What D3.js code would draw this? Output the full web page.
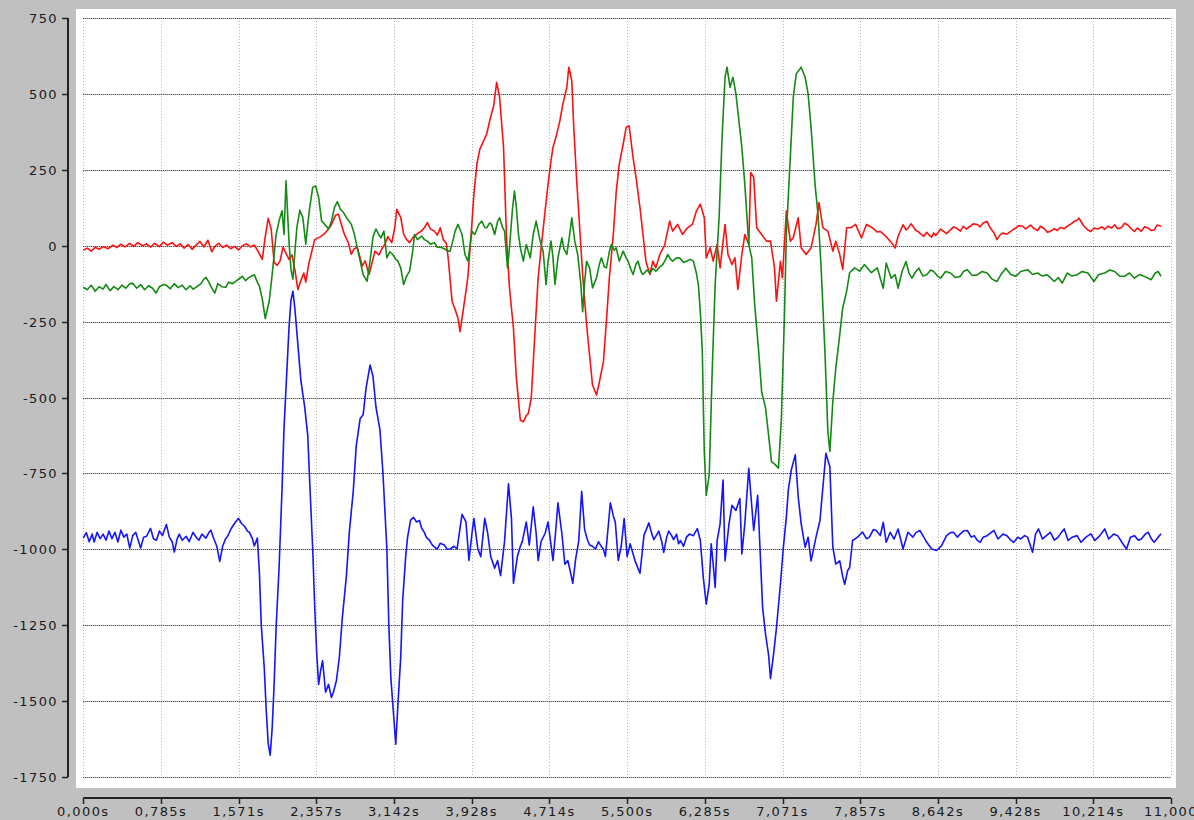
<!DOCTYPE html>
<html>
<head>
<meta charset="utf-8">
<script src="https://cdn.jsdelivr.net/npm/d3@7"></script>
<style>
  html, body { margin: 0; padding: 0; background: #c0c0c0; }
  svg { display: block; }
  .tick-label { font-family: "DejaVu Sans", Verdana, sans-serif; font-size: 13px; letter-spacing: 1.4px; fill: #1a1a1a; }
</style>
</head>
<body>
<svg id="chart" width="1194" height="820"></svg>
<script>
  // y ticks every 250, x ticks every 11/14 s
  const yTicks = [750, 500, 250, 0, -250, -500, -750, -1000, -1250, -1500, -1750];
  const xTicks = [0, 0.7857, 1.5714, 2.3571, 3.1429, 3.9286, 4.7143, 5.5, 6.2857, 7.0714, 7.8571, 8.6429, 9.4286, 10.2143, 11];
  const xTickLabels = ["0,000s", "0,785s", "1,571s", "2,357s", "3,142s", "3,928s", "4,714s", "5,500s",
    "6,285s", "7,071s", "7,857s", "8,642s", "9,428s", "10,214s", "11,000"];

  // [time (s), value]
  const redSeries = [
    [0.00,-15],[0.04,-8],[0.08,-18],[0.12,-5],[0.16,-12],[0.20,-3],[0.25,-10],[0.30,2],[0.34,-6],[0.38,5],
    [0.42,-4],[0.47,8],[0.51,-2],[0.55,10],[0.60,0],[0.64,6],[0.68,-5],[0.72,8],[0.77,-3],[0.81,12],
    [0.85,2],[0.90,10],[0.94,-2],[0.98,6],[1.02,-8],[1.06,4],[1.10,-12],[1.14,2],[1.18,14],[1.22,-4],
    [1.26,18],[1.30,-20],[1.33,-2],[1.37,8],[1.41,-6],[1.45,2],[1.49,-10],[1.53,-2],[1.57,-14],[1.61,0],
    [1.65,6],[1.69,-4],[1.73,2],[1.77,-20],[1.81,-45],[1.84,30],[1.87,90],[1.90,55],[1.93,-55],[1.96,-65],
    [1.99,-50],[2.02,-5],[2.05,-25],[2.08,-45],[2.11,-30],[2.14,-80],[2.17,-145],[2.20,-115],[2.23,-90],[2.25,-120],
    [2.28,-60],[2.31,-20],[2.34,20],[2.37,25],[2.40,30],[2.44,40],[2.48,55],[2.51,70],[2.55,100],[2.58,104],
    [2.61,70],[2.64,38],[2.68,10],[2.71,-28],[2.74,-10],[2.77,-5],[2.80,-40],[2.82,-67],[2.85,-50],[2.89,-95],
    [2.92,-56],[2.95,-18],[2.99,-30],[3.02,-10],[3.05,5],[3.08,30],[3.12,10],[3.15,60],[3.17,120],[3.21,93],
    [3.24,38],[3.27,20],[3.30,10],[3.34,30],[3.38,40],[3.42,48],[3.45,60],[3.48,76],[3.51,55],[3.55,48],
    [3.58,35],[3.61,59],[3.64,20],[3.67,9],[3.69,-40],[3.73,-184],[3.76,-210],[3.79,-240],[3.81,-283],[3.84,-217],
    [3.87,-150],[3.89,-100],[3.92,26],[3.95,169],[3.98,268],[4.01,318],[4.05,346],[4.08,368],[4.11,412],[4.15,461],
    [4.18,538],[4.21,489],[4.25,324],[4.28,26],[4.31,-139],[4.35,-272],[4.38,-437],[4.42,-575],[4.45,-580],[4.48,-560],
    [4.50,-553],[4.53,-503],[4.57,-272],[4.60,-106],[4.63,-8],[4.67,114],[4.70,202],[4.73,280],[4.75,324],[4.78,357],
    [4.82,412],[4.85,467],[4.89,522],[4.91,588],[4.94,544],[4.96,390],[4.99,213],[5.02,59],[5.05,-95],[5.09,-261],
    [5.12,-360],[5.15,-459],[5.19,-492],[5.22,-448],[5.26,-382],[5.29,-250],[5.32,-106],[5.36,37],[5.39,180],[5.42,268],
    [5.46,335],[5.49,390],[5.52,395],[5.56,290],[5.59,224],[5.63,125],[5.66,37],[5.69,-51],[5.73,-95],[5.76,-51],
    [5.79,-73],[5.83,-29],[5.88,3],[5.93,81],[5.96,48],[6.01,70],[6.06,37],[6.11,59],[6.16,70],[6.20,114],
    [6.24,137],[6.28,92],[6.30,-40],[6.34,-7],[6.37,-51],[6.41,4],[6.44,-73],[6.49,70],[6.52,-29],[6.56,-62],
    [6.59,-40],[6.62,-144],[6.66,-29],[6.69,37],[6.73,4],[6.75,241],[6.78,225],[6.81,59],[6.86,37],[6.91,15],
    [6.95,15],[6.99,-73],[7.01,-183],[7.05,-51],[7.07,-106],[7.11,114],[7.15,15],[7.18,26],[7.23,92],[7.26,-7],
    [7.31,-29],[7.36,-7],[7.41,70],[7.44,142],[7.48,59],[7.53,48],[7.58,-18],[7.61,15],[7.65,-29],[7.68,-78],
    [7.72,59],[7.76,59],[7.81,70],[7.87,26],[7.92,70],[7.98,59],[8.03,45],[8.06,47],[8.10,36],[8.16,15],
    [8.19,3],[8.21,-8],[8.24,31],[8.29,69],[8.32,52],[8.34,58],[8.37,72],[8.39,64],[8.42,50],[8.44,47],
    [8.47,38],[8.50,31],[8.53,44],[8.55,36],[8.58,28],[8.60,42],[8.62,34],[8.64,42],[8.67,55],[8.70,47],
    [8.73,40],[8.77,52],[8.80,62],[8.83,58],[8.87,48],[8.90,64],[8.93,55],[8.97,64],[9.00,72],[9.04,70],
    [9.07,62],[9.10,75],[9.14,80],[9.16,66],[9.18,55],[9.21,42],[9.24,20],[9.27,35],[9.30,42],[9.34,38],
    [9.38,47],[9.41,55],[9.43,58],[9.46,66],[9.50,64],[9.53,55],[9.55,60],[9.58,68],[9.61,58],[9.65,50],
    [9.68,64],[9.72,56],[9.75,44],[9.78,47],[9.82,56],[9.85,50],[9.88,60],[9.92,56],[9.95,64],[9.99,72],
    [10.02,80],[10.05,84],[10.07,91],[10.10,74],[10.12,64],[10.16,52],[10.19,47],[10.22,58],[10.26,55],[10.30,62],
    [10.33,54],[10.36,64],[10.40,58],[10.43,69],[10.46,56],[10.50,60],[10.53,74],[10.56,69],[10.60,55],[10.63,47],
    [10.66,58],[10.70,47],[10.73,62],[10.77,58],[10.80,50],[10.83,52],[10.86,68],[10.90,64]
  ];

  const greenSeries = [
    [0.00,-137],[0.04,-145],[0.08,-130],[0.12,-150],[0.16,-135],[0.20,-143],[0.23,-128],[0.27,-148],[0.31,-135],[0.35,-145],
    [0.39,-130],[0.43,-140],[0.47,-125],[0.50,-124],[0.54,-140],[0.58,-128],[0.62,-145],[0.66,-132],[0.70,-140],[0.735,-156],
    [0.77,-135],[0.81,-128],[0.84,-130],[0.88,-142],[0.92,-125],[0.96,-138],[1.00,-130],[1.04,-145],[1.08,-132],[1.11,-143],
    [1.15,-135],[1.19,-125],[1.22,-110],[1.24,-104],[1.27,-120],[1.30,-140],[1.33,-156],[1.36,-125],[1.40,-135],[1.44,-137],
    [1.47,-120],[1.51,-125],[1.55,-115],[1.58,-108],[1.61,-101],[1.64,-115],[1.67,-106],[1.70,-100],[1.73,-96],[1.76,-120],
    [1.78,-132],[1.81,-175],[1.84,-240],[1.88,-183],[1.91,-95],[1.95,37],[1.98,82],[2.01,115],[2.03,37],[2.05,214],
    [2.08,15],[2.10,-78],[2.12,-110],[2.14,-20],[2.16,60],[2.19,117],[2.22,93],[2.25,5],[2.27,70],[2.29,126],
    [2.32,192],[2.35,197],[2.38,159],[2.41,82],[2.44,71],[2.48,55],[2.51,80],[2.54,126],[2.57,145],[2.60,120],
    [2.63,110],[2.66,93],[2.69,80],[2.71,71],[2.74,40],[2.77,-6],[2.80,-50],[2.83,-95],[2.87,-117],[2.90,-50],
    [2.93,30],[2.96,55],[2.99,35],[3.01,26],[3.04,48],[3.07,-40],[3.10,-20],[3.13,-29],[3.16,-45],[3.18,-50],
    [3.21,-73],[3.24,-128],[3.27,-100],[3.30,-84],[3.33,-20],[3.35,37],[3.38,20],[3.42,32],[3.45,20],[3.48,15],
    [3.51,5],[3.55,10],[3.58,-5],[3.62,-6],[3.65,-10],[3.69,-18],[3.71,-18],[3.74,20],[3.76,48],[3.79,70],
    [3.83,37],[3.86,-29],[3.89,-51],[3.93,48],[3.96,37],[4.00,70],[4.03,81],[4.06,60],[4.08,59],[4.11,75],
    [4.13,70],[4.16,37],[4.19,80],[4.21,92],[4.24,60],[4.26,48],[4.29,-73],[4.31,-7],[4.34,120],[4.36,180],
    [4.38,125],[4.40,40],[4.42,-7],[4.45,-51],[4.48,4],[4.52,-40],[4.55,37],[4.58,81],[4.62,15],[4.65,-18],
    [4.68,-128],[4.70,-51],[4.73,15],[4.75,-40],[4.77,-128],[4.80,-40],[4.84,26],[4.86,-10],[4.89,-29],[4.92,40],
    [4.94,92],[4.97,15],[5.00,-29],[5.03,-120],[5.05,-217],[5.07,-120],[5.09,-51],[5.12,-73],[5.15,-139],[5.19,-106],
    [5.22,-60],[5.24,-40],[5.27,-70],[5.29,-73],[5.32,-20],[5.34,4],[5.37,-15],[5.39,-7],[5.42,-51],[5.46,-18],
    [5.49,-40],[5.51,-51],[5.54,-80],[5.56,-95],[5.59,-60],[5.61,-51],[5.64,-85],[5.66,-95],[5.70,-80],[5.73,-90],
    [5.76,-75],[5.79,-84],[5.83,-70],[5.86,-62],[5.89,-45],[5.91,-29],[5.94,-45],[5.96,-51],[6.00,-40],[6.03,-40],
    [6.07,-55],[6.10,-51],[6.14,-45],[6.17,-51],[6.20,-90],[6.22,-128],[6.24,-217],[6.26,-348],[6.27,-520],[6.28,-678],
    [6.30,-822],[6.33,-755],[6.36,-414],[6.39,-128],[6.43,93],[6.46,357],[6.49,555],[6.51,588],[6.54,522],[6.57,555],
    [6.60,500],[6.63,412],[6.66,324],[6.69,203],[6.73,4],[6.76,-40],[6.79,-194],[6.83,-348],[6.86,-480],[6.90,-535],
    [6.93,-623],[6.96,-711],[7.00,-722],[7.03,-733],[7.06,-568],[7.09,-238],[7.11,37],[7.15,291],[7.18,489],[7.21,566],
    [7.26,588],[7.30,555],[7.33,500],[7.36,390],[7.40,203],[7.43,104],[7.46,-62],[7.50,-348],[7.53,-612],[7.55,-678],
    [7.58,-513],[7.61,-403],[7.65,-293],[7.68,-205],[7.72,-150],[7.75,-89],[7.80,-73],[7.85,-84],[7.90,-62],[7.97,-89],
    [8.03,-73],[8.06,-107],[8.09,-140],[8.12,-57],[8.17,-107],[8.21,-95],[8.24,-140],[8.28,-85],[8.32,-52],[8.35,-90],
    [8.38,-107],[8.42,-85],[8.45,-74],[8.49,-100],[8.53,-96],[8.57,-80],[8.60,-85],[8.64,-100],[8.67,-107],[8.72,-85],
    [8.77,-90],[8.82,-105],[8.87,-101],[8.90,-85],[8.94,-79],[8.99,-98],[9.04,-96],[9.09,-85],[9.14,-90],[9.19,-110],
    [9.24,-118],[9.28,-95],[9.33,-74],[9.38,-95],[9.43,-101],[9.48,-85],[9.55,-79],[9.60,-95],[9.65,-90],[9.70,-100],
    [9.75,-96],[9.82,-118],[9.86,-105],[9.90,-123],[9.95,-90],[10.00,-100],[10.05,-96],[10.10,-85],[10.16,-90],[10.22,-118],
    [10.27,-95],[10.33,-90],[10.38,-80],[10.43,-85],[10.48,-100],[10.53,-101],[10.58,-90],[10.63,-107],[10.68,-95],[10.73,-101],
    [10.80,-112],[10.84,-90],[10.87,-85],[10.90,-101]
  ];

  const blueSeries = [
    [0.00,-963],[0.03,-945],[0.06,-975],[0.09,-950],[0.11,-976],[0.14,-944],[0.17,-965],[0.20,-950],[0.23,-970],[0.26,-940],
    [0.29,-965],[0.32,-944],[0.35,-976],[0.38,-937],[0.41,-960],[0.44,-950],[0.47,-996],[0.50,-955],[0.53,-944],[0.56,-975],
    [0.58,-996],[0.61,-960],[0.64,-957],[0.68,-931],[0.71,-965],[0.74,-970],[0.77,-940],[0.80,-955],[0.84,-918],[0.87,-960],
    [0.90,-976],[0.92,-1009],[0.95,-965],[0.97,-950],[1.00,-970],[1.04,-957],[1.07,-975],[1.11,-944],[1.14,-960],[1.17,-970],
    [1.20,-950],[1.24,-963],[1.27,-945],[1.29,-937],[1.32,-965],[1.35,-990],[1.38,-1040],[1.41,-989],[1.44,-965],[1.46,-957],
    [1.49,-935],[1.51,-924],[1.54,-910],[1.57,-898],[1.60,-915],[1.63,-924],[1.66,-940],[1.68,-944],[1.71,-965],[1.73,-989],
    [1.76,-963],[1.78,-1070],[1.80,-1250],[1.83,-1390],[1.85,-1530],[1.87,-1640],[1.89,-1678],[1.91,-1590],[1.93,-1444],[1.95,-1257],
    [1.98,-1060],[2.01,-800],[2.03,-600],[2.06,-404],[2.08,-273],[2.10,-180],[2.12,-150],[2.14,-208],[2.17,-325],[2.20,-443],
    [2.24,-534],[2.27,-625],[2.29,-780],[2.32,-1000],[2.34,-1185],[2.36,-1340],[2.38,-1445],[2.40,-1400],[2.42,-1367],[2.45,-1471],
    [2.48,-1445],[2.51,-1488],[2.53,-1470],[2.56,-1432],[2.59,-1354],[2.62,-1224],[2.66,-1091],[2.69,-945],[2.73,-809],[2.76,-660],
    [2.80,-569],[2.83,-557],[2.86,-468],[2.90,-393],[2.93,-431],[2.96,-532],[3.00,-607],[3.03,-746],[3.07,-999],[3.09,-1250],
    [3.11,-1422],[3.14,-1554],[3.16,-1642],[3.18,-1521],[3.21,-1356],[3.23,-1168],[3.26,-1025],[3.28,-959],[3.31,-904],[3.34,-895],
    [3.37,-910],[3.40,-905],[3.42,-929],[3.45,-945],[3.47,-961],[3.50,-970],[3.53,-986],[3.56,-995],[3.58,-999],[3.61,-980],
    [3.65,-986],[3.68,-1000],[3.71,-999],[3.75,-990],[3.78,-999],[3.81,-930],[3.83,-885],[3.87,-910],[3.90,-1037],[3.93,-950],
    [3.95,-898],[3.99,-999],[4.02,-1024],[4.06,-898],[4.09,-948],[4.12,-1024],[4.16,-1062],[4.19,-1037],[4.22,-1087],[4.26,-974],
    [4.30,-784],[4.33,-898],[4.35,-1112],[4.39,-1024],[4.42,-990],[4.44,-974],[4.48,-910],[4.51,-986],[4.55,-860],[4.58,-948],
    [4.60,-1037],[4.63,-974],[4.67,-948],[4.70,-910],[4.73,-986],[4.75,-1037],[4.78,-930],[4.80,-847],[4.84,-948],[4.87,-1049],
    [4.90,-1037],[4.93,-1080],[4.95,-1112],[4.98,-1030],[5.01,-974],[5.04,-809],[5.07,-936],[5.10,-970],[5.12,-986],[5.15,-990],
    [5.18,-999],[5.21,-975],[5.23,-986],[5.26,-1000],[5.28,-1024],[5.31,-920],[5.33,-847],[5.36,-890],[5.38,-910],[5.41,-1037],
    [5.44,-990],[5.47,-899],[5.50,-1024],[5.53,-982],[5.58,-1038],[5.63,-1079],[5.67,-954],[5.72,-913],[5.75,-950],[5.77,-968],
    [5.82,-940],[5.85,-975],[5.87,-1010],[5.90,-960],[5.92,-940],[5.95,-955],[5.97,-968],[6.00,-950],[6.02,-982],[6.04,-971],
    [6.07,-990],[6.10,-960],[6.13,-950],[6.17,-955],[6.21,-932],[6.24,-971],[6.27,-1093],[6.30,-1181],[6.33,-1115],[6.35,-982],
    [6.37,-1049],[6.39,-1126],[6.41,-971],[6.44,-916],[6.47,-772],[6.49,-1038],[6.53,-916],[6.56,-855],[6.60,-872],[6.64,-833],
    [6.66,-1015],[6.69,-916],[6.73,-733],[6.75,-816],[6.78,-938],[6.82,-822],[6.84,-971],[6.87,-1192],[6.90,-1281],[6.93,-1347],
    [6.95,-1425],[6.98,-1347],[7.01,-1259],[7.05,-1115],[7.08,-993],[7.11,-894],[7.13,-805],[7.16,-739],[7.20,-689],[7.23,-827],
    [7.26,-916],[7.30,-993],[7.33,-960],[7.36,-1038],[7.41,-960],[7.45,-905],[7.48,-794],[7.51,-684],[7.55,-728],[7.58,-993],
    [7.61,-1049],[7.65,-1038],[7.68,-1090],[7.70,-1115],[7.73,-1070],[7.75,-1060],[7.78,-971],[7.83,-960],[7.88,-943],[7.92,-965],
    [7.95,-960],[7.99,-935],[8.02,-938],[8.06,-955],[8.09,-911],[8.12,-977],[8.16,-944],[8.20,-966],[8.24,-933],[8.29,-999],
    [8.34,-944],[8.39,-960],[8.42,-945],[8.46,-938],[8.50,-960],[8.53,-977],[8.58,-999],[8.63,-1004],[8.68,-988],[8.73,-955],
    [8.77,-945],[8.80,-944],[8.84,-960],[8.87,-949],[8.90,-940],[8.94,-938],[8.98,-960],[9.01,-955],[9.04,-970],[9.07,-977],
    [9.10,-960],[9.14,-955],[9.18,-945],[9.21,-938],[9.25,-966],[9.30,-950],[9.34,-955],[9.38,-970],[9.41,-977],[9.45,-960],
    [9.48,-966],[9.52,-955],[9.55,-960],[9.60,-1010],[9.63,-950],[9.66,-933],[9.70,-966],[9.74,-955],[9.78,-944],[9.82,-970],
    [9.86,-960],[9.89,-945],[9.92,-933],[9.96,-971],[10.00,-960],[10.05,-955],[10.09,-977],[10.14,-960],[10.19,-949],[10.23,-971],
    [10.28,-955],[10.33,-933],[10.37,-966],[10.42,-950],[10.46,-955],[10.51,-980],[10.55,-999],[10.59,-960],[10.63,-955],[10.67,-970],
    [10.70,-966],[10.74,-950],[10.77,-944],[10.80,-965],[10.83,-977],[10.87,-960],[10.90,-949]
  ];

  const svg = d3.select("#chart");

  const x = d3.scaleLinear().domain([0, 11]).range([83.3, 1171]);
  const y = d3.scaleLinear().domain([-1750, 750]).range([777, 18]);

  // plot background
  svg.append("rect")
    .attr("x", 76).attr("y", 9)
    .attr("width", 1100).attr("height", 779)
    .attr("fill", "#fff");

  // vertical grid (light grey dots)
  svg.append("g")
    .selectAll("line")
    .data(xTicks)
    .join("line")
    .attr("x1", d => Math.round(x(d)) + 0.5)
    .attr("x2", d => Math.round(x(d)) + 0.5)
    .attr("y1", y(750))
    .attr("y2", y(-1750))
    .attr("stroke", "#b4b4b4")
    .attr("stroke-width", 1)
    .attr("stroke-dasharray", "1,2");

  // horizontal grid (black dots)
  svg.append("g")
    .selectAll("line")
    .data(yTicks)
    .join("line")
    .attr("x1", x(0))
    .attr("x2", x(11))
    .attr("y1", d => Math.round(y(d)) + 0.5)
    .attr("y2", d => Math.round(y(d)) + 0.5)
    .attr("stroke", "#111")
    .attr("stroke-width", 1)
    .attr("stroke-dasharray", "1,1");

  const line = d3.line()
    .x(d => x(d[0]))
    .y(d => y(d[1]));

  const series = [
    { data: redSeries, color: "#ff1010" },
    { data: greenSeries, color: "#138a13" },
    { data: blueSeries, color: "#1414ff" }
  ];

  svg.append("g")
    .selectAll("path")
    .data(series)
    .join("path")
    .attr("d", d => line(d.data))
    .attr("fill", "none")
    .attr("stroke", d => d.color)
    .attr("stroke-width", 1.6)
    .attr("stroke-linejoin", "round");

  // left axis
  const yAxis = svg.append("g");
  yAxis.append("line")
    .attr("x1", 68).attr("x2", 68)
    .attr("y1", y(750)).attr("y2", y(-1750))
    .attr("stroke", "#222").attr("stroke-width", 2);
  yAxis.selectAll(".tk")
    .data(yTicks)
    .join("line")
    .attr("x1", 62).attr("x2", 68)
    .attr("y1", d => Math.round(y(d)) + 0.5)
    .attr("y2", d => Math.round(y(d)) + 0.5)
    .attr("stroke", "#222").attr("stroke-width", 1.5);
  yAxis.selectAll("text")
    .data(yTicks)
    .join("text")
    .attr("class", "tick-label")
    .attr("x", 58)
    .attr("y", d => y(d) + 5)
    .attr("text-anchor", "end")
    .text(d => d);

  // bottom axis
  const xAxis = svg.append("g");
  xAxis.append("line")
    .attr("x1", x(0)).attr("x2", x(11))
    .attr("y1", 798).attr("y2", 798)
    .attr("stroke", "#222").attr("stroke-width", 2);
  xAxis.selectAll(".tk")
    .data(xTicks)
    .join("line")
    .attr("x1", d => Math.round(x(d)) + 0.5)
    .attr("x2", d => Math.round(x(d)) + 0.5)
    .attr("y1", 798).attr("y2", 804)
    .attr("stroke", "#222").attr("stroke-width", 1.5);
  xAxis.selectAll("text")
    .data(xTicks)
    .join("text")
    .attr("class", "tick-label")
    .attr("x", d => x(d))
    .attr("y", 816)
    .attr("text-anchor", "middle")
    .text((d, i) => xTickLabels[i]);
</script>
</body>
</html>
